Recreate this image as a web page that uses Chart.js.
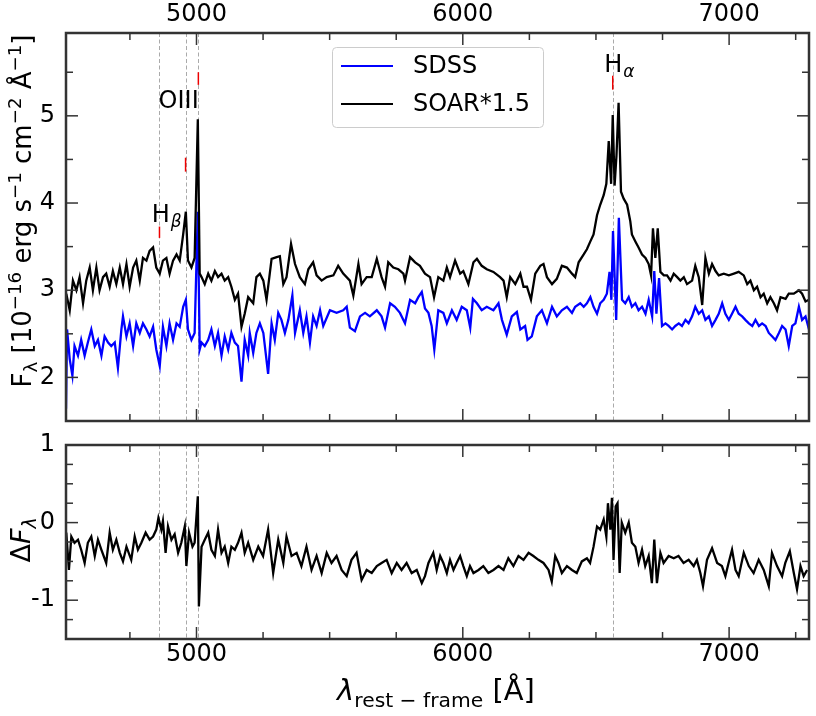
<!DOCTYPE html>
<html>
<head>
<meta charset="utf-8">
<script src="https://cdn.jsdelivr.net/npm/chart.js@4.4.0/dist/chart.umd.min.js"></script>
<style>
  html, body { margin: 0; padding: 0; background: #fff; }
  #wrap { position: relative; width: 816px; height: 716px; font-family: "DejaVu Sans", sans-serif; color: #000; }
  canvas { position: absolute; left: 0; }
  .lbl { position: absolute; white-space: nowrap; line-height: 1; }
  .lbl sub, .lbl sup { font-size: 70%; line-height: 0; }
</style>
</head>
<body>
<div id="wrap">
  <canvas id="topChart" width="816" height="430" style="top:0"></canvas>
  <canvas id="botChart" width="816" height="286" style="top:430px"></canvas>
  <div class="lbl" id="yTop" style="left:22px;top:211px;font-size:26px;transform:translate(-50%,-50%) rotate(-90deg)">F<sub>λ</sub> [10<sup>−16</sup> erg s<sup>−1</sup> cm<sup>−2</sup> Å<sup>−1</sup>]</div>
  <div class="lbl" id="yBot" style="left:20px;top:540px;font-size:27px;transform:translate(-50%,-50%) rotate(-90deg)">Δ<i>F</i><sub><i>λ</i></sub></div>
  <div class="lbl" id="xLab" style="left:436px;top:676px;font-size:29px;transform:translateX(-50%)"><i>λ</i><sub>rest − frame</sub> [Å]</div>
</div>
<script>
// wavelength grid ticks (Å)
const xTickValues = [5000, 6000, 7000];
const xMinorStep = 250;
const topYTicks = [2, 3, 4, 5];
const botYTicks = [-1, 0, 1];

// emission lines: Hbeta, [OIII] 4959, [OIII] 5007, Halpha
const lineWaves = [4861, 4959, 5007, 6563];
// red line markers: [wave, low, high]
const lineMarks = [[4861, 3.60, 3.73], [4959, 4.36, 4.52], [5007, 5.355, 5.50], [6563, 5.30, 5.46]];

// SOAR spectrum (x1.5)
const soarWave = [4511, 4524, 4536, 4549, 4561, 4574, 4586, 4599, 4611, 4624, 4636, 4649, 4661, 4674, 4686, 4699,
  4712, 4724, 4737, 4749, 4762, 4774, 4787, 4799, 4812, 4824, 4837, 4849, 4862, 4874, 4887, 4899, 4912, 4925, 4937,
  4950, 4960, 4968, 4981, 4993, 5005, 5012, 5019, 5031, 5044, 5056, 5069, 5081, 5094, 5106, 5119, 5131, 5144, 5156,
  5169, 5181, 5194, 5213, 5225, 5238, 5251, 5263, 5282, 5301, 5313, 5326, 5338, 5355, 5370, 5388, 5407, 5420, 5438,
  5451, 5470, 5489, 5514, 5532, 5551, 5576, 5589, 5608, 5620, 5639, 5658, 5677, 5695, 5708, 5720, 5739, 5758, 5777,
  5783, 5802, 5821, 5839, 5858, 5877, 5892, 5908, 5927, 5940, 5952, 5971, 5990, 6002, 6021, 6040, 6053, 6071, 6090,
  6115, 6140, 6153, 6165, 6178, 6197, 6216, 6228, 6241, 6256, 6272, 6291, 6303, 6316, 6335, 6353, 6372, 6391, 6410,
  6422, 6435, 6454, 6466, 6479, 6491, 6504, 6516, 6529, 6539, 6548, 6557, 6563, 6570, 6577, 6585, 6594, 6604, 6617,
  6629, 6635, 6648, 6660, 6673, 6686, 6698, 6707, 6714, 6723, 6732, 6742, 6755, 6767, 6780, 6792, 6805, 6817, 6830,
  6842, 6861, 6873, 6886, 6899, 6911, 6924, 6936, 6949, 6961, 6980, 6999, 7018, 7036, 7055, 7068, 7080, 7093, 7105,
  7118, 7130, 7143, 7155, 7168, 7180, 7193, 7212, 7224, 7243, 7262, 7274, 7287, 7300];
const soarFlux = [2.96, 2.77, 3.11, 3.00, 3.15, 2.85, 3.11, 3.26, 3.00, 3.26, 3.00, 3.15, 3.19, 3.04, 3.22, 3.07,
  3.26, 3.07, 3.30, 3.04, 3.26, 3.34, 3.11, 3.37, 3.34, 3.45, 3.49, 3.26, 3.19, 3.34, 3.37, 3.19, 3.34, 3.41, 3.34,
  3.64, 3.90, 3.34, 3.26, 3.37, 4.96, 3.19, 3.15, 3.07, 3.19, 3.11, 3.22, 3.15, 3.19, 3.11, 3.15, 3.04, 2.89, 2.96,
  2.58, 2.73, 2.92, 2.85, 3.15, 3.19, 3.11, 2.89, 3.36, 3.38, 3.39, 3.07, 3.15, 3.53, 3.30, 3.15, 3.07, 3.24, 3.32,
  3.17, 3.11, 3.15, 3.17, 3.28, 3.19, 3.11, 2.94, 3.30, 3.07, 3.15, 3.15, 3.36, 3.15, 3.04, 3.32, 3.26, 3.24, 3.19,
  3.11, 3.38, 3.32, 3.28, 3.19, 3.15, 2.92, 3.15, 3.11, 3.26, 3.15, 3.34, 3.19, 3.22, 3.07, 3.32, 3.36, 3.28, 3.24,
  3.21, 3.15, 3.11, 2.92, 3.15, 3.07, 3.19, 3.04, 3.04, 2.89, 3.19, 3.28, 3.30, 3.15, 3.07, 3.13, 3.28, 3.26, 3.19,
  3.15, 3.32, 3.41, 3.47, 3.56, 3.64, 3.86, 3.98, 4.09, 4.22, 4.71, 4.22, 5.01, 4.20, 4.54, 5.15, 4.13, 4.05, 3.98,
  3.79, 3.64, 3.56, 3.49, 3.41, 3.37, 3.30, 3.17, 3.71, 3.37, 3.71, 3.21, 3.17, 3.17, 3.11, 3.19, 3.15, 3.11, 3.15,
  3.07, 3.11, 3.28, 3.15, 2.83, 3.37, 3.19, 3.30, 3.22, 3.17, 3.19, 3.17, 3.19, 3.21, 3.17, 3.07, 3.11, 3.00, 3.04,
  2.92, 2.96, 2.85, 2.92, 2.85, 2.77, 2.92, 2.90, 2.96, 2.96, 3.00, 2.96, 2.87, 2.89];

// SDSS spectrum
const sdssWave = [4510, 4514, 4524, 4534, 4542, 4555, 4567, 4580, 4592, 4605, 4618, 4630, 4643, 4655, 4668, 4680,
  4693, 4705, 4718, 4724, 4737, 4749, 4762, 4774, 4787, 4799, 4812, 4824, 4837, 4849, 4862, 4874, 4887, 4899, 4912,
  4925, 4937, 4950, 4960, 4968, 4981, 4993, 5005, 5012, 5019, 5031, 5044, 5056, 5069, 5081, 5094, 5106, 5119, 5131,
  5144, 5156, 5169, 5181, 5194, 5200, 5213, 5225, 5238, 5251, 5269, 5282, 5294, 5307, 5319, 5332, 5345, 5360, 5370,
  5388, 5401, 5413, 5426, 5438, 5451, 5464, 5476, 5501, 5526, 5551, 5564, 5576, 5595, 5614, 5633, 5651, 5677, 5695,
  5708, 5727, 5745, 5764, 5783, 5802, 5821, 5833, 5846, 5858, 5871, 5883, 5893, 5908, 5927, 5940, 5959, 5977, 5996,
  6015, 6028, 6038, 6053, 6071, 6090, 6115, 6134, 6147, 6165, 6184, 6203, 6216, 6234, 6243, 6259, 6278, 6297, 6316,
  6335, 6353, 6372, 6391, 6410, 6422, 6441, 6454, 6466, 6479, 6491, 6504, 6516, 6529, 6541, 6551, 6558, 6564, 6576,
  6586, 6598, 6610, 6623, 6635, 6648, 6660, 6673, 6686, 6698, 6711, 6719, 6727, 6737, 6748, 6761, 6773, 6786, 6798,
  6811, 6823, 6836, 6848, 6861, 6873, 6886, 6899, 6911, 6924, 6936, 6949, 6961, 6974, 6986, 6999, 7011, 7024, 7036,
  7049, 7061, 7074, 7087, 7099, 7112, 7124, 7137, 7149, 7162, 7174, 7187, 7199, 7212, 7224, 7237, 7249, 7262, 7274,
  7287, 7300];
const sdssFlux = [1.64, 2.55, 2.21, 2.02, 2.36, 2.25, 2.43, 2.25, 2.40, 2.55, 2.36, 2.43, 2.25, 2.47, 2.40, 2.36,
  2.40, 2.11, 2.55, 2.70, 2.47, 2.62, 2.36, 2.62, 2.51, 2.62, 2.55, 2.47, 2.58, 2.32, 2.13, 2.58, 2.36, 2.62, 2.43,
  2.62, 2.58, 2.81, 2.89, 2.55, 2.43, 2.51, 3.90, 2.32, 2.40, 2.36, 2.43, 2.55, 2.36, 2.51, 2.25, 2.47, 2.32, 2.51,
  2.40, 2.36, 1.95, 2.43, 2.25, 2.51, 2.28, 2.51, 2.62, 2.51, 2.04, 2.62, 2.43, 2.74, 2.66, 2.51, 2.66, 2.94, 2.51,
  2.77, 2.51, 2.70, 2.40, 2.70, 2.59, 2.77, 2.59, 2.77, 2.74, 2.77, 2.81, 2.57, 2.53, 2.70, 2.74, 2.70, 2.77, 2.70,
  2.57, 2.85, 2.81, 2.74, 2.62, 2.89, 2.85, 2.92, 2.98, 2.79, 2.74, 2.59, 2.32, 2.77, 2.74, 2.62, 2.77, 2.66, 2.81,
  2.77, 2.57, 2.90, 2.85, 2.77, 2.81, 2.77, 2.85, 2.66, 2.49, 2.70, 2.75, 2.55, 2.59, 2.43, 2.47, 2.70, 2.77, 2.62,
  2.81, 2.70, 2.77, 2.81, 2.74, 2.81, 2.85, 2.81, 2.85, 2.92, 2.81, 2.73, 2.85, 2.89, 2.96, 3.21, 2.89, 3.68, 2.66,
  3.83, 2.89, 2.85, 2.92, 2.81, 2.85, 2.77, 2.81, 2.73, 2.89, 2.70, 3.22, 2.73, 3.14, 2.59, 2.62, 2.59, 2.55, 2.59,
  2.62, 2.59, 2.66, 2.62, 2.70, 2.81, 2.73, 2.77, 2.66, 2.70, 2.59, 2.66, 2.73, 2.85, 2.73, 2.66, 2.73, 2.81, 2.73,
  2.70, 2.66, 2.62, 2.59, 2.66, 2.59, 2.62, 2.59, 2.51, 2.47, 2.43, 2.51, 2.59, 2.55, 2.36, 2.59, 2.62, 2.81, 2.66,
  2.70, 2.55];

// residual (lower panel)
const diffWave = [4511, 4521, 4530, 4542, 4555, 4567, 4580, 4592, 4605, 4618, 4630, 4643, 4661, 4674, 4686, 4699,
  4712, 4724, 4737, 4755, 4768, 4780, 4793, 4809, 4824, 4837, 4849, 4857, 4868, 4874, 4884, 4893, 4906, 4918, 4931,
  4943, 4956, 4962, 4972, 4985, 4993, 5005, 5009, 5019, 5031, 5044, 5056, 5069, 5081, 5094, 5106, 5119, 5131, 5144,
  5156, 5169, 5181, 5194, 5213, 5232, 5250, 5269, 5288, 5307, 5326, 5338, 5357, 5376, 5394, 5413, 5432, 5451, 5470,
  5489, 5507, 5526, 5545, 5564, 5582, 5601, 5620, 5639, 5658, 5677, 5695, 5714, 5733, 5752, 5770, 5789, 5808, 5827,
  5846, 5858, 5871, 5889, 5902, 5915, 5927, 5940, 5952, 5965, 5977, 5990, 6002, 6015, 6027, 6040, 6059, 6077, 6096,
  6115, 6134, 6153, 6171, 6190, 6209, 6228, 6247, 6265, 6284, 6303, 6322, 6334, 6347, 6359, 6372, 6391, 6410, 6428,
  6447, 6466, 6478, 6491, 6504, 6516, 6529, 6539, 6545, 6554, 6560, 6566, 6574, 6581, 6589, 6597, 6610, 6623, 6635,
  6648, 6660, 6673, 6685, 6698, 6710, 6719, 6729, 6742, 6754, 6773, 6792, 6810, 6829, 6848, 6867, 6879, 6892, 6902,
  6917, 6936, 6955, 6973, 6986, 6998, 7011, 7024, 7036, 7055, 7074, 7092, 7111, 7130, 7149, 7161, 7180, 7199, 7211,
  7228, 7243, 7255, 7268, 7280, 7293];
const diffFlux = [-0.13, -0.61, -0.18, -0.26, -0.22, -0.35, -0.52, -0.26, -0.18, -0.43, -0.22, -0.35, -0.52, -0.13,
  -0.35, -0.22, -0.39, -0.50, -0.31, -0.48, -0.18, -0.35, -0.26, -0.13, -0.22, -0.18, -0.09, 0.06, -0.09, 0.02,
  -0.39, -0.05, -0.22, -0.15, -0.39, -0.26, -0.05, -0.56, -0.13, -0.31, -0.26, 0.34, -1.08, -0.31, -0.22, -0.13,
  -0.35, -0.43, -0.09, -0.39, -0.31, -0.52, -0.31, -0.35, -0.26, -0.13, -0.39, -0.26, -0.48, -0.31, -0.43, -0.09,
  -0.65, -0.22, -0.52, -0.18, -0.43, -0.39, -0.56, -0.31, -0.61, -0.43, -0.65, -0.39, -0.52, -0.43, -0.61, -0.69,
  -0.48, -0.39, -0.74, -0.61, -0.65, -0.56, -0.52, -0.48, -0.65, -0.52, -0.61, -0.52, -0.65, -0.61, -0.78, -0.69,
  -0.52, -0.39, -0.61, -0.43, -0.52, -0.65, -0.48, -0.61, -0.52, -0.43, -0.56, -0.69, -0.56, -0.65, -0.61, -0.56,
  -0.65, -0.61, -0.56, -0.61, -0.46, -0.56, -0.43, -0.48, -0.39, -0.43, -0.48, -0.52, -0.61, -0.76, -0.43, -0.52,
  -0.65, -0.56, -0.61, -0.65, -0.50, -0.46, -0.52, -0.31, -0.05, -0.09, 0.04, -0.18, 0.25, -0.09, 0.32, -0.48,
  0.21, 0.25, -0.65, 0.00, -0.13, 0.00, -0.26, -0.31, -0.52, -0.35, -0.56, -0.43, -0.78, -0.22, -0.78, -0.39,
  -0.52, -0.43, -0.46, -0.43, -0.52, -0.48, -0.56, -0.48, -0.65, -0.82, -0.48, -0.33, -0.52, -0.56, -0.69, -0.52,
  -0.35, -0.61, -0.69, -0.39, -0.56, -0.65, -0.48, -0.61, -0.82, -0.39, -0.56, -0.69, -0.52, -0.37, -0.65, -0.86,
  -0.56, -0.69, -0.61];

const FONT = '"DejaVu Sans", sans-serif';
const frameColor = '#333333';

function toPoints(xs, ys) {
  return xs.map((w, i) => ({ x: w, y: ys[i] }));
}

function seg(ctx, x1, y1, x2, y2) {
  ctx.beginPath();
  ctx.moveTo(x1, y1);
  ctx.lineTo(x2, y2);
  ctx.stroke();
}

// dashed guides at the emission line wavelengths
const guidePlugin = {
  id: 'guides',
  beforeDatasetsDraw(chart) {
    const { ctx, chartArea: a, scales: { x } } = chart;
    ctx.save();
    ctx.strokeStyle = '#aaaaaa';
    ctx.lineWidth = 1;
    ctx.setLineDash([4, 2.5]);
    lineWaves.forEach(w => {
      const px = Math.round(x.getPixelForValue(w)) + 0.5;
      seg(ctx, px, a.top, px, a.bottom);
    });
    ctx.restore();
  }
};

// box + inward ticks on all four sides
function drawFrame(chart, yTicks, yMinor) {
  const { ctx, chartArea: a, scales: { x, y } } = chart;
  ctx.save();
  ctx.strokeStyle = frameColor;
  ctx.lineWidth = 1.5;
  for (let v = Math.ceil(x.min / xMinorStep) * xMinorStep; v <= x.max; v += xMinorStep) {
    const px = x.getPixelForValue(v);
    const len = xTickValues.includes(v) ? 12 : 7;
    seg(ctx, px, a.top, px, a.top + len);
    seg(ctx, px, a.bottom, px, a.bottom - len);
  }
  for (let v = Math.ceil(y.min / yMinor) * yMinor; v <= y.max + 1e-9; v += yMinor) {
    const py = y.getPixelForValue(v);
    const len = yTicks.includes(v) ? 12 : 7;
    seg(ctx, a.left, py, a.left + len, py);
    seg(ctx, a.right, py, a.right - len, py);
  }
  ctx.lineWidth = 2.5;
  ctx.strokeRect(a.left, a.top, a.right - a.left, a.bottom - a.top);
  ctx.restore();
}

function drawSubLabel(ctx, px, pyMid, main, sub) {
  ctx.font = '24px ' + FONT;
  ctx.textAlign = 'left';
  ctx.textBaseline = 'alphabetic';
  const base = pyMid + 8.7;
  ctx.fillText(main, px, base);
  const w = ctx.measureText(main).width;
  if (sub) {
    ctx.font = 'italic 17px ' + FONT;
    ctx.fillText(sub, px + w + 1, base + 5);
  }
}

const topPlugin = {
  id: 'topDecor',
  afterDraw(chart) {
    const { ctx, scales: { x, y } } = chart;
    drawFrame(chart, topYTicks, 0.5);
    ctx.save();
    // red line markers
    ctx.strokeStyle = '#ee0000';
    ctx.lineWidth = 1.5;
    lineMarks.forEach(([w, lo, hi]) => {
      const px = x.getPixelForValue(w);
      seg(ctx, px, y.getPixelForValue(lo), px, y.getPixelForValue(hi));
    });
    // line names
    ctx.fillStyle = '#000';
    ctx.font = '24px ' + FONT;
    ctx.textAlign = 'center';
    ctx.textBaseline = 'alphabetic';
    ctx.fillText('OIII', x.getPixelForValue(4933), y.getPixelForValue(5.195) + 8.7);
    drawSubLabel(ctx, x.getPixelForValue(4832), y.getPixelForValue(3.88), 'H', 'β');
    drawSubLabel(ctx, x.getPixelForValue(6531), y.getPixelForValue(5.60), 'H', 'α');
    // legend
    const bx = 332, by = 47, bw = 211, bh = 80;
    ctx.beginPath();
    ctx.roundRect(bx + 0.5, by + 0.5, bw, bh, 4);
    ctx.fillStyle = 'rgba(255,255,255,0.8)';
    ctx.fill();
    ctx.strokeStyle = '#cccccc';
    ctx.lineWidth = 1;
    ctx.stroke();
    chart.data.datasets.forEach((ds, i) => {
      const ly = by + 19 + i * 38;
      ctx.strokeStyle = ds.borderColor;
      ctx.lineWidth = 2;
      seg(ctx, bx + 9, ly, bx + 61, ly);
      ctx.fillStyle = '#000';
      ctx.font = '24px ' + FONT;
      ctx.textAlign = 'left';
      ctx.textBaseline = 'middle';
      ctx.fillText(ds.label, bx + 81, ly + 1);
    });
    ctx.restore();
  }
};

const botPlugin = {
  id: 'botDecor',
  afterDraw(chart) {
    drawFrame(chart, botYTicks, 0.25);
  }
};

const tickFont = { family: FONT, size: 24 };

function xScale(position, pad, height) {
  return {
    type: 'linear', position: position, min: 4510, max: 7300,
    grid: { display: false }, border: { display: false },
    ticks: { color: '#000', font: tickFont, padding: pad, maxRotation: 0, callback: v => String(v) },
    afterBuildTicks: s => { s.ticks = xTickValues.map(v => ({ value: v })); },
    afterFit: s => { s.height = height; s.paddingLeft = 0; s.paddingRight = 0; }
  };
}

function yScale(min, max, values) {
  return {
    type: 'linear', min: min, max: max,
    grid: { display: false }, border: { display: false },
    ticks: { color: '#000', font: tickFont, padding: 3, callback: v => String(v) },
    afterBuildTicks: s => { s.ticks = values.map(v => ({ value: v })); },
    afterFit: s => { s.width = 66; s.paddingTop = 0; s.paddingBottom = 0; }
  };
}

const commonOpts = {
  responsive: false,
  animation: false,
  events: [],
  plugins: { legend: { display: false }, tooltip: { enabled: false } },
  elements: { point: { radius: 0 }, line: { tension: 0 } }
};

new Chart(document.getElementById('topChart'), {
  type: 'line',
  data: {
    datasets: [
      { label: 'SDSS', data: toPoints(sdssWave, sdssFlux), borderColor: '#0000ff', borderWidth: 2.3, order: 1 },
      { label: 'SOAR*1.5', data: toPoints(soarWave, soarFlux), borderColor: '#000000', borderWidth: 2.3, order: 0 }
    ]
  },
  options: {
    ...commonOpts,
    layout: { padding: { left: 0, right: 7, top: 0, bottom: 9 } },
    scales: { x: xScale('top', -4.5, 33), y: yScale(1.5, 5.95, topYTicks) }
  },
  plugins: [guidePlugin, topPlugin]
});

new Chart(document.getElementById('botChart'), {
  type: 'line',
  data: {
    datasets: [
      { label: 'residual', data: toPoints(diffWave, diffFlux), borderColor: '#000000', borderWidth: 2.3 }
    ]
  },
  options: {
    ...commonOpts,
    layout: { padding: { left: 0, right: 7, top: 15, bottom: 37 } },
    scales: { x: xScale('bottom', -6.5, 40), y: yScale(-1.5, 1, botYTicks) }
  },
  plugins: [guidePlugin, botPlugin]
});
</script>
</body>
</html>
